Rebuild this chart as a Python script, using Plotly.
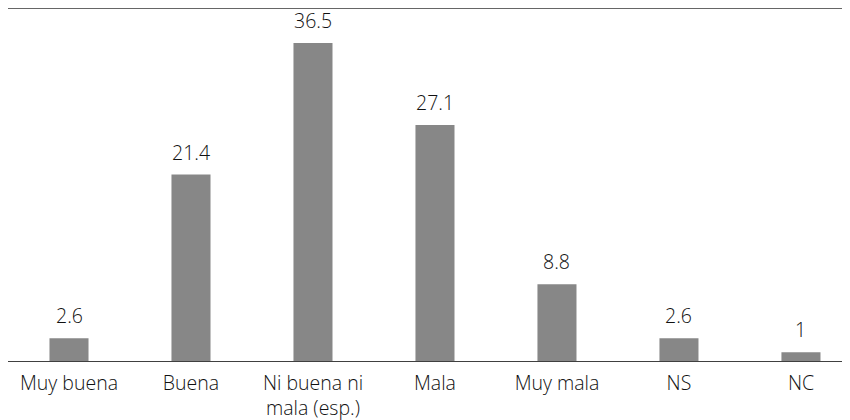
import plotly.graph_objects as go

categories = ["Muy buena", "Buena", "Ni buena ni<br>mala (esp.)", "Mala", "Muy mala", "NS", "NC"]
values = [2.6, 21.4, 36.5, 27.1, 8.8, 2.6, 1]
labels = ["2.6", "21.4", "36.5", "27.1", "8.8", "2.6", "1"]

FONT = "Open Sans"
TXT = "#111111"
SIZE = 19.5
fig = go.Figure(go.Bar(
    x=categories, y=values,
    marker=dict(color="#878787", line=dict(width=0)),
    width=0.32, cliponaxis=False,
))
for c, v, t in zip(categories, values, labels):
    fig.add_annotation(x=c, y=v, text=t, showarrow=False, yanchor="bottom",
                       yshift=7, font=dict(family=FONT, size=SIZE, color=TXT, weight=300))

# page body has an 8px margin, so the figure is sized to fit the 850x420 window
fig.update_layout(
    width=842, height=412,
    margin=dict(l=0, r=0, t=0, b=59),
    plot_bgcolor="white", paper_bgcolor="white",
    showlegend=False,
    font=dict(family=FONT, size=SIZE, color=TXT, weight=300),
    xaxis=dict(range=[-0.5, 6.402], showline=True, linecolor="#404040", linewidth=1.2,
               ticks="", showgrid=False, zeroline=False, ticklabelstandoff=4,
               tickfont=dict(family=FONT, size=SIZE, color=TXT, weight=300)),
    yaxis=dict(range=[0, 40.52], visible=False, showgrid=False, zeroline=False),
)
fig.add_shape(type="line", xref="paper", yref="paper", x0=0, x1=1, y0=1.0, y1=1.0,
              line=dict(color="#666666", width=2))
fig.write_html("out.html")
